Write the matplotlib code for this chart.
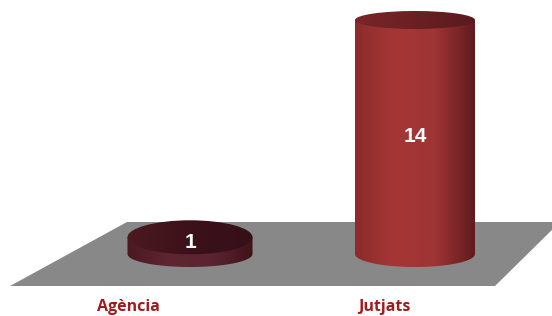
import numpy as np
import matplotlib
matplotlib.use("Agg")
import matplotlib.pyplot as plt
from matplotlib.patches import Ellipse, Polygon, PathPatch
from matplotlib.path import Path
from matplotlib.colors import LinearSegmentedColormap
from matplotlib.transforms import IdentityTransform

categories = ["Agència", "Jutjats"]
values = [1, 14]

# look of each cylinder (pixels / colours)
widths_px = [125, 120]
top_h_px = [34, 18]
bot_h_px = [26, 26]
side_cols = [["#4a1822", "#5e2631", "#5a2430", "#3e1219"],
             ["#8a2b2b", "#a63636", "#9e3434", "#5e1a1c"]]
top_cols = [["#4c1a22", "#3c1119", "#35101a"],
            ["#7a2628", "#6a2022", "#5a1a1c"]]

W, H = 552, 316
fig = plt.figure(figsize=(W / 100, H / 100), dpi=100)
ax = fig.add_axes([0, 0, 1, 1])
ax.axis("off")
# category i -> pixel 190 + 225 i ; value 0 -> 62 px from bottom
ax.set_xlim(-190 / 225, (W - 190) / 225)
ppu = (254 - 20) / 14
ax.set_ylim(-62 / ppu, (H - 62) / ppu)

# grey floor
floor = Polygon([(10 / W, 30 / H), (127 / W, 94 / H), (560 / W, 94 / H), (495 / W, 30 / H)],
                closed=True, transform=ax.transAxes, facecolor="#888888", edgecolor="none")
ax.add_patch(floor)

ident = IdentityTransform()
grad = np.linspace(0, 1, 256).reshape(1, -1)
for i, (cat, v) in enumerate(zip(categories, values)):
    cx, by = ax.transData.transform((i, 0))
    _, ty = ax.transData.transform((i, v))
    w = widths_px[i]
    hb = bot_h_px[i]
    ht = top_h_px[i]
    t = np.linspace(np.pi, 2 * np.pi, 60)
    arc = np.column_stack([cx + w / 2 * np.cos(t), by + hb / 2 * np.sin(t)])
    verts = np.vstack([[cx - w / 2, ty], arc, [cx + w / 2, ty], [cx - w / 2, ty]])
    side = PathPatch(Path(verts, closed=True), transform=ident, facecolor="none", edgecolor="none")
    ax.add_patch(side)
    x0, _ = ax.transData.inverted().transform((cx - w / 2 - 2, 0))
    x1, _ = ax.transData.inverted().transform((cx + w / 2 + 2, 0))
    cmap = LinearSegmentedColormap.from_list("s%d" % i, side_cols[i])
    im = ax.imshow(grad, cmap=cmap, aspect="auto", extent=[x0, x1, -3, v + 1],
                   interpolation="bicubic", zorder=2)
    im.set_clip_path(side)

    top = Ellipse((cx, ty), w, ht, transform=ident, facecolor="none", edgecolor="none")
    ax.add_patch(top)
    cmap_t = LinearSegmentedColormap.from_list("t%d" % i, top_cols[i])
    im2 = ax.imshow(grad, cmap=cmap_t, aspect="auto", extent=[x0, x1, -3, v + 1],
                    interpolation="bicubic", zorder=3)
    im2.set_clip_path(top)

    ax.text(i, v / 2 if v > 2 else v * 0.7, str(v), ha="center", va="center",
            color="white", fontsize=15, fontweight="bold",
            family="Liberation Sans", zorder=5)

    # category label along the floor's front edge
    fx = (512 * (i + 0.5) / len(categories)) / W
    ax.text(fx, 9 / H, cat, transform=ax.transAxes, ha="center", va="center",
            color="#a01c1c", fontsize=11.5, fontweight="bold", family="Open Sans")

fig.savefig("out.png", dpi=100)
